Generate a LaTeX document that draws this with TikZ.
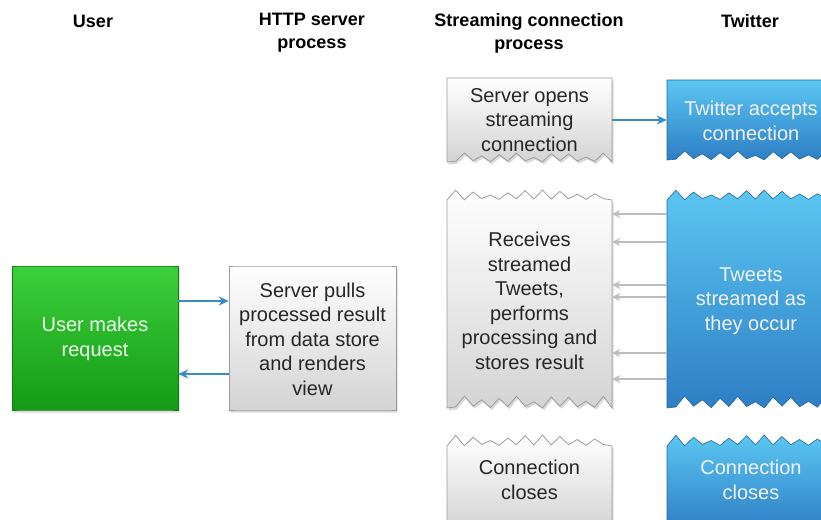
\documentclass[tikz,border=0pt]{standalone}
\usepackage{fontspec}
\setmainfont{Liberation Sans}
\usetikzlibrary{arrows.meta}

\definecolor{greentop}{HTML}{3CD03C}
\definecolor{greenbot}{HTML}{159A15}
\definecolor{greyline}{HTML}{9C9C9C}
\definecolor{bluetop}{HTML}{5BC6F2}
\definecolor{bluebot}{HTML}{2E7EC4}
\definecolor{arrowblue}{HTML}{3A8CC8}
\definecolor{arrowgrey}{HTML}{BDBDBD}

% box outline with torn top/bottom edge (amplitude 0 = straight)
\newcommand{\tornbox}[7]{%
  \path[#7] (#1,#2)
    \foreach \n in {1,...,18}{ -- ({#1+\n*(#3-#1)/19},{#2-#5*(mod(\n,2)*(0.45+0.55*abs(sin(\n*73)))+0.15*(1-mod(\n,2))*abs(cos(\n*41)))}) }
    -- (#3,#2) -- (#3,#4)
    \foreach \n in {1,...,18}{ -- ({#3-\n*(#3-#1)/19},{#4-#6*(mod(\n,2)*(0.45+0.55*abs(sin(\n*57+20)))+0.15*(1-mod(\n,2))*abs(cos(\n*33)))}) }
    -- (#1,#4) -- cycle;
}

\tikzset{
  heading/.style={align=center, font=\fontsize{18}{23}\selectfont\bfseries},
  boxtext/.style={align=center, inner sep=0pt, minimum width=165pt, font=\fontsize{20}{24.5}\selectfont},
  greyfill/.style={top color=white, bottom color=black!17, draw=greyline, line width=0.8pt},
  bluefill/.style={top color=bluetop, bottom color=bluebot, draw=bluebot!80!black, line width=0.6pt},
  greenfill/.style={top color=greentop, bottom color=greenbot, draw=greenbot!80!black, line width=0.6pt},
  shadow/.style={fill=black!15, shift={(1.5,2.5)}},
  bluearrow/.style={draw=arrowblue, line width=2.6pt, -{Stealth[length=10pt,width=9pt]}},
  greyarrow/.style={draw=arrowgrey, line width=2.6pt, -{Stealth[length=8pt,width=8pt,fill=black!8]}}
}

\begin{document}
\begin{tikzpicture}[x=1pt, y=-1pt]
\useasboundingbox (0,0) rectangle (821,519);

% shadows
\tornbox{12}{266}{178}{410}{0}{0}{shadow}
\tornbox{229}{266}{396}{410}{0}{0}{shadow}
\tornbox{447}{78}{612}{162}{0}{9}{shadow}
\tornbox{447}{200}{612}{408}{10}{12}{shadow}
\tornbox{447}{446}{612}{530}{11}{0}{shadow}

% boxes
\tornbox{12}{266}{178}{410}{0}{0}{greenfill}
\tornbox{229}{266}{396}{410}{0}{0}{greyfill}
\tornbox{447}{78}{612}{162}{0}{9}{greyfill}
\tornbox{667}{80}{835}{160}{0}{9}{bluefill}
\tornbox{447}{200}{612}{408}{10}{12}{greyfill}
\tornbox{667}{200}{835}{408}{10}{12}{bluefill}
\tornbox{447}{446}{612}{530}{11}{0}{greyfill}
\tornbox{667}{446}{835}{530}{11}{0}{bluefill}

% column headings
\node[heading] (huser) at (93,21) {User};
\node[heading] (hhttp) at (312,33) {HTTP server\\process};
\node[heading] (hstream) at (529,33) {Streaming connection\\process};
\node[heading] (htwitter) at (750,21) {Twitter};

% box texts
\node[boxtext, minimum width=166pt, text=green!8] (user) at (95,339) {User makes\\request};
\node[boxtext, minimum width=167pt, text=black!85] (http) at (312.5,339) {Server pulls\\processed result\\from data store\\and renders\\view};
\node[boxtext, text=black!85] (opens) at (529.5,120) {Server opens\\streaming\\connection};
\node[boxtext, minimum width=168pt, text=blue!5] (accepts) at (751,121) {Twitter accepts\\connection};
\node[boxtext, text=black!85] (receives) at (529.5,301) {Receives\\streamed\\Tweets,\\performs\\processing and\\stores result};
\node[boxtext, minimum width=168pt, text=blue!5] (tweets) at (751,301) {Tweets\\streamed as\\they occur};
\node[boxtext, text=black!85] (closes) at (529.5,480) {Connection\\closes};
\node[boxtext, minimum width=168pt, text=blue!5] (tclose) at (751,480) {Connection\\closes};

% connectors
\draw[bluearrow] (opens.east) -- (opens.east -| accepts.west);
\draw[bluearrow] ([yshift=38pt]user.east) -- ([yshift=38pt]http.west);
\draw[bluearrow] ([yshift=-35pt]http.west) -- ([yshift=-35pt]user.east);
\foreach \dy in {87,59,16,4,-52,-78}
  \draw[greyarrow] ([yshift=\dy pt]tweets.west) -- ([yshift=\dy pt]receives.east);
\end{tikzpicture}
\end{document}
